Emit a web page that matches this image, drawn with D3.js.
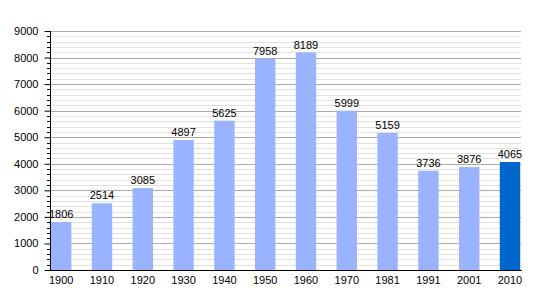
<!DOCTYPE html>
<html>
<head>
<meta charset="utf-8">
<script src="https://cdn.jsdelivr.net/npm/d3@7"></script>
<style>
body { margin: 0; background: #fff; }
text { font-family: "Liberation Sans", Arial, sans-serif; font-size: 11px; fill: #000; }
</style>
</head>
<body>
<script>
var years = ['1900', '1910', '1920', '1930', '1940', '1950', '1960', '1970', '1981', '1991', '2001', '2010'];
var population = [1806, 2514, 3085, 4897, 5625, 7958, 8189, 5999, 5159, 3736, 3876, 4065];
var yTicks = [0, 1000, 2000, 3000, 4000, 5000, 6000, 7000, 8000, 9000];

var width = 550, height = 300;
var plotLeft = 50, plotRight = 521, plotTop = 31, plotBottom = 270;

var svg = d3.select('body').append('svg')
	.attr('width', width)
	.attr('height', height);

var x = d3.scaleBand()
	.domain(years)
	.range([plotLeft + 1, plotLeft + 1 + 12 * 40.8])
	.padding(0);

var y = d3.scaleLinear()
	.domain([0, 9000])
	.range([plotBottom, plotTop]);

// minor gridlines every 200
var minor = d3.range(200, 9001, 200).filter(function(v) { return v % 1000 != 0; });
svg.selectAll('line.minor')
	.data(minor)
	.enter()
	.append('line')
	.attr('x1', plotLeft).attr('x2', plotRight)
	.attr('y1', function(d) { return Math.round(y(d)) + 0.5; })
	.attr('y2', function(d) { return Math.round(y(d)) + 0.5; })
	.attr('stroke', '#e0e0e0');

// major gridlines
svg.selectAll('line.major')
	.data(yTicks.slice(1))
	.enter()
	.append('line')
	.attr('x1', plotLeft).attr('x2', plotRight)
	.attr('y1', function(d) { return Math.round(y(d)) + 0.5; })
	.attr('y2', function(d) { return Math.round(y(d)) + 0.5; })
	.attr('stroke', '#aaaaaa');

// bars
var bw = x.bandwidth() / 2;
svg.selectAll('rect.bar')
	.data(population)
	.enter()
	.append('rect')
	.attr('x', function(d, i) { return x(years[i]); })
	.attr('y', function(d) { return y(d); })
	.attr('width', bw)
	.attr('height', function(d) { return y(0) - y(d); })
	.attr('fill', function(d, i) { return i == years.length - 1 ? '#0066cc' : '#99b3ff'; });

// value labels
svg.selectAll('text.val')
	.data(population)
	.enter()
	.append('text')
	.attr('x', function(d, i) { return x(years[i]) + bw / 2; })
	.attr('y', function(d) { return y(d) - 4; })
	.attr('text-anchor', 'middle')
	.text(function(d) { return d; });

// y axis
var yAxis = d3.axisLeft(y).tickValues(yTicks).tickSize(6).tickPadding(6).tickFormat(d3.format('d'));
var gy = svg.append('g').attr('transform', 'translate(' + (plotLeft + 0.5) + ',0)').call(yAxis);
gy.select('.domain').remove();
gy.selectAll('.tick line').attr('stroke', '#000');
gy.selectAll('.tick text').style('font-size', '11px').style('font-family', '"Liberation Sans", Arial, sans-serif');

svg.selectAll('line.mtick')
	.data(minor)
	.enter()
	.append('line')
	.attr('x1', plotLeft - 3).attr('x2', plotLeft)
	.attr('y1', function(d) { return Math.round(y(d)) + 0.5; })
	.attr('y2', function(d) { return Math.round(y(d)) + 0.5; })
	.attr('stroke', '#000');

svg.append('line')
	.attr('x1', plotLeft + 0.5).attr('x2', plotLeft + 0.5)
	.attr('y1', y(9000)).attr('y2', plotBottom + 1)
	.attr('stroke', '#000');

// x axis
svg.append('line')
	.attr('x1', plotLeft).attr('x2', plotRight + 1)
	.attr('y1', plotBottom + 0.5).attr('y2', plotBottom + 0.5)
	.attr('stroke', '#000');

svg.selectAll('text.year')
	.data(years)
	.enter()
	.append('text')
	.attr('x', function(d) { return x(d) + bw / 2; })
	.attr('y', plotBottom + 14)
	.attr('text-anchor', 'middle')
	.text(function(d) { return d; });
</script>
</body>
</html>
